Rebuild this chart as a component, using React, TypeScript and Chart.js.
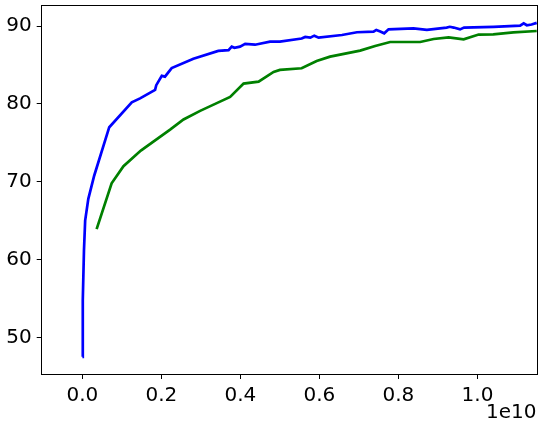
import React, { useEffect, useRef } from "react";
import { Chart, registerables } from "chart.js";

Chart.register(...registerables);

// x in units of 1e10
const blueX = [0, 0.001, 0.004, 0.007, 0.015, 0.03, 0.068, 0.125, 0.146, 0.184, 0.187, 0.201, 0.209, 0.226, 0.281, 0.344, 0.37, 0.378, 0.385, 0.399, 0.412, 0.437, 0.475, 0.5, 0.555, 0.564, 0.577, 0.587, 0.598, 0.657, 0.695, 0.737, 0.744, 0.754, 0.764, 0.775, 0.838, 0.872, 0.922, 0.93, 0.94, 0.956, 0.966, 1.041, 1.108, 1.117, 1.125, 1.137, 1.15];
const blueY = [47.5, 54.8, 61.2, 65.0, 67.8, 70.8, 77.0, 80.2, 80.7, 81.8, 82.4, 83.6, 83.5, 84.6, 85.8, 86.8, 86.9, 87.35, 87.2, 87.35, 87.7, 87.6, 88.0, 88.0, 88.4, 88.6, 88.5, 88.76, 88.5, 88.85, 89.2, 89.27, 89.5, 89.3, 89.06, 89.57, 89.7, 89.5, 89.8, 89.9, 89.8, 89.57, 89.8, 89.9, 90.04, 90.35, 90.1, 90.2, 90.4];

const greenX = [0.036, 0.074, 0.104, 0.148, 0.222, 0.256, 0.298, 0.332, 0.374, 0.408, 0.446, 0.484, 0.5, 0.555, 0.593, 0.627, 0.703, 0.741, 0.779, 0.855, 0.889, 0.927, 0.965, 1.003, 1.04, 1.091, 1.15];
const greenY = [63.9, 69.8, 72.0, 74.0, 76.7, 78.0, 79.1, 79.9, 80.9, 82.6, 82.86, 84.1, 84.36, 84.57, 85.5, 86.07, 86.84, 87.44, 87.95, 87.95, 88.33, 88.55, 88.3, 88.9, 88.93, 89.19, 89.36];

const xTicks = [0, 0.2, 0.4, 0.6, 0.8, 1.0];
const yTicks = [50, 60, 70, 80, 90];
const xOffsetLabel = "1e10";

const FONT = "'DejaVu Sans', sans-serif";
const FONT_SIZE = 20;

export default function App() {
  const ref = useRef<HTMLCanvasElement>(null);
  useEffect(() => {
    document.body.style.margin = "0";
    const ctx = ref.current!;
    const framePlugin = {
      id: "frame",
      afterDraw(chart: any) {
        const { ctx, chartArea } = chart;
        ctx.save();
        ctx.strokeStyle = "#000";
        ctx.lineWidth = 1;
        const l = Math.floor(chartArea.left) + 0.5;
        const t = Math.floor(chartArea.top) + 0.5;
        const r = Math.floor(chartArea.right) + 0.5;
        const b = Math.floor(chartArea.bottom) + 0.5;
        ctx.strokeRect(l, t, r - l, b - t);
        ctx.fillStyle = "#000";
        ctx.font = `${FONT_SIZE}px ${FONT}`;
        ctx.textAlign = "right";
        ctx.textBaseline = "alphabetic";
        ctx.fillText(xOffsetLabel, chartArea.right - 1, 418);
        ctx.restore();
      },
    };
    const chart = new Chart(ctx, {
      type: "line",
      data: {
        datasets: [
          {
            data: blueX.map((x, i) => ({ x, y: blueY[i] })),
            borderColor: "#0000ff",
            borderWidth: 2.7,
            pointRadius: 0,
            tension: 0,
          },
          {
            data: greenX.map((x, i) => ({ x, y: greenY[i] })),
            borderColor: "#008000",
            borderWidth: 2.7,
            pointRadius: 0,
            tension: 0,
          },
        ],
      },
      options: {
        animation: false,
        responsive: false,
        events: [],
        layout: { padding: { left: 0, right: 4.5, top: 5, bottom: 0 } },
        plugins: { legend: { display: false }, tooltip: { enabled: false } },
        scales: {
          x: {
            type: "linear",
            min: -0.103,
            max: 1.152,
            afterBuildTicks: (axis: any) => {
              axis.ticks = xTicks.map((v) => ({ value: v }));
            },
            afterFit: (axis: any) => {
              axis.height = 59;
              axis.paddingLeft = 0;
              axis.paddingRight = 0;
            },
            ticks: {
              color: "#000",
              font: { family: FONT, size: FONT_SIZE },
              padding: 5,
              maxRotation: 0,
              callback: (v: any) => Number(v).toFixed(1),
            },
            grid: { drawOnChartArea: false, drawTicks: true, tickLength: 5, color: "#000" },
            border: { display: false },
          },
          y: {
            type: "linear",
            min: 45.3,
            max: 92.7,
            afterBuildTicks: (axis: any) => {
              axis.ticks = yTicks.map((v) => ({ value: v }));
            },
            afterFit: (axis: any) => {
              axis.width = 41.7;
              axis.paddingTop = 0;
              axis.paddingBottom = 0;
            },
            ticks: {
              color: "#000",
              font: { family: FONT, size: FONT_SIZE },
              padding: 5,
              callback: (v: any) => String(v),
            },
            grid: { drawOnChartArea: false, drawTicks: true, tickLength: 5, color: "#000" },
            border: { display: false },
          },
        },
      },
      plugins: [framePlugin],
    });
    return () => chart.destroy();
  }, []);
  return (
    <div style={{ position: "absolute", left: 0, top: 0, width: 542, height: 433, background: "#fff" }}>
      <canvas ref={ref} width={542} height={433} style={{ width: 542, height: 433 }} />
    </div>
  );
}
